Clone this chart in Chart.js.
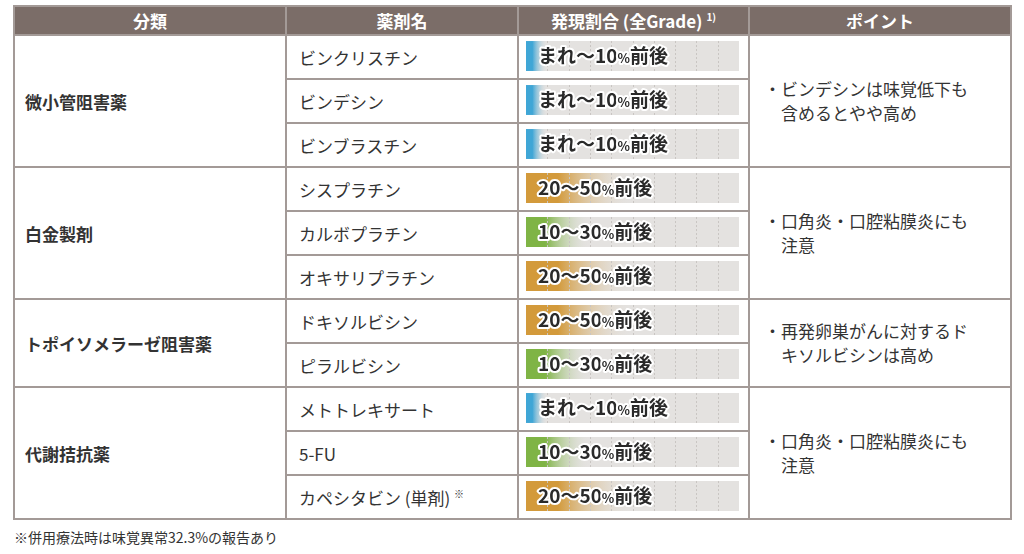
<!DOCTYPE html>
<html>
<head>
<meta charset="utf-8">
<script src="https://cdn.jsdelivr.net/npm/chart.js@4"></script>
<style>
body { margin:0; background:#fff; font-family:"Noto Sans CJK JP", sans-serif; color:#333; }
table { position:absolute; left:13px; top:5px; border-collapse:collapse; table-layout:fixed; }
td, th { border:2px solid #a39a97; padding:0; font-size:17px; }
th { background:#7b6d68; color:#fff; height:27px; font-size:17px; font-weight:bold; }
td { height:42px; }
td.cat { font-weight:bold; padding-left:10px; }
td.drug { padding-left:12px; }
td.pt { padding-left:14px; line-height:24px; }
#wrap { position:absolute; left:526px; top:34px; width:213px; height:484px; }
#note { position:absolute; left:14px; top:527px; font-size:14px; color:#333; }
</style>
</head>
<body>
<table id="tbl">
  <colgroup><col style="width:272px"><col style="width:232px"><col style="width:231px"><col style="width:262px"></colgroup>
</table>
<div id="wrap"><canvas id="grafico"></canvas></div>
<div id="note">※併用療法時は味覚異常32.3%の報告あり</div>
<script>
var cabecalho = ["分類", "薬剤名", "発現割合 (全Grade) <sup style='font-size:10px'>1)</sup>", "ポイント"];
var categorias = ["微小管阻害薬", "白金製剤", "トポイソメラーゼ阻害薬", "代謝拮抗薬"];
var qtdPorCategoria = [3, 3, 2, 3];
var pontos = ["・ビンデシンは味覚低下も<br>　含めるとやや高め", "・口角炎・口腔粘膜炎にも<br>　注意", "・再発卵巣がんに対するド<br>　キソルビシンは高め", "・口角炎・口腔粘膜炎にも<br>　注意"];
var farmacos = ["ビンクリスチン", "ビンデシン", "ビンブラスチン", "シスプラチン", "カルボプラチン", "オキサリプラチン", "ドキソルビシン", "ピラルビシン", "メトトレキサート", "5-FU", "カペシタビン (単剤) <sup style='font-size:10px'>※</sup>"];
var faixas = ["まれ〜10%前後", "まれ〜10%前後", "まれ〜10%前後", "20〜50%前後", "10〜30%前後", "20〜50%前後", "20〜50%前後", "10〜30%前後", "まれ〜10%前後", "10〜30%前後", "20〜50%前後"];
var valores = [10, 10, 10, 50, 30, 50, 50, 30, 10, 30, 50];
var trilho = [100, 100, 100, 100, 100, 100, 100, 100, 100, 100, 100];

var cores = { "まれ〜10%前後": "#3fa6d6", "10〜30%前後": "#7fb445", "20〜50%前後": "#d39a3b" };

// monta a tabela
var tbl = document.getElementById("tbl");
var html = "<tr>" + cabecalho.map(function (c) { return "<th>" + c + "</th>"; }).join("") + "</tr>";
var k = 0;
for (let i = 0; i < categorias.length; i++) {
    for (let j = 0; j < qtdPorCategoria[i]; j++) {
        html += "<tr>";
        if (j == 0) html += `<td class="cat" rowspan="${qtdPorCategoria[i]}">${categorias[i]}</td>`;
        html += `<td class="drug">${farmacos[k]}</td><td></td>`;
        if (j == 0) html += `<td class="pt" rowspan="${qtdPorCategoria[i]}">${pontos[i]}</td>`;
        html += "</tr>";
        k++;
    }
}
tbl.innerHTML += html;

var pluginTrilho = {
    id: "trilho",
    afterDatasetsDraw(chart) {
        const ctx = chart.ctx;
        const xs = chart.scales.x;
        const meta = chart.getDatasetMeta(1);
        meta.data.forEach(function (bar, i) {
            const top = bar.y - bar.height / 2, bot = bar.y + bar.height / 2;
            ctx.save();
            ctx.strokeStyle = "#c9c5c2";
            ctx.setLineDash([2, 2]);
            ctx.lineWidth = 1;
            for (let v = 10; v < 100; v += 10) {
                const x = Math.round(xs.getPixelForValue(v)) + 0.5;
                ctx.beginPath(); ctx.moveTo(x, top); ctx.lineTo(x, bot); ctx.stroke();
            }
            ctx.restore();
            // texto
            const partes = faixas[i].split("%");
            ctx.save();
            ctx.textBaseline = "middle";
            ctx.lineJoin = "round";
            ctx.lineWidth = 4;
            ctx.strokeStyle = "#fff";
            ctx.fillStyle = "#2a2a2a";
            let x = 12;
            ctx.font = "bold 19px 'Noto Sans CJK JP'";
            ctx.strokeText(partes[0], x, bar.y); ctx.fillText(partes[0], x, bar.y);
            x += ctx.measureText(partes[0]).width;
            ctx.font = "bold 13px 'Noto Sans CJK JP'";
            ctx.strokeText("%", x, bar.y + 2); ctx.fillText("%", x, bar.y + 2);
            x += ctx.measureText("%").width;
            ctx.font = "bold 19px 'Noto Sans CJK JP'";
            ctx.strokeText(partes[1], x, bar.y); ctx.fillText(partes[1], x, bar.y);
            ctx.restore();
        });
    }
};

function gradiente(context) {
    const chart = context.chart;
    const area = chart.chartArea;
    if (!area) return "#ccc";
    const cor = cores[faixas[context.dataIndex]];
    const xs = chart.scales.x;
    const fim = xs.getPixelForValue(valores[context.dataIndex]);
    const g = chart.ctx.createLinearGradient(area.left, 0, fim, 0);
    g.addColorStop(0, cor);
    g.addColorStop(0.3, cor);
    g.addColorStop(1, "rgba(228,226,224,0)");
    return g;
}

new Chart(document.getElementById("grafico"), {
    type: "bar",
    data: {
        labels: farmacos,
        datasets: [{
            data: valores,
            backgroundColor: gradiente,
            order: 0
        }, {
            data: trilho,
            backgroundColor: "#e4e2e0",
            order: 1
        }]
    },
    options: {
        indexAxis: "y",
        responsive: true,
        maintainAspectRatio: false,
        animation: false,
        grouped: false,
        categoryPercentage: 1,
        barPercentage: 0.68,
        layout: { padding: 0 },
        plugins: { legend: { display: false }, tooltip: { enabled: false } },
        scales: {
            x: { display: false, min: 0, max: 100 },
            y: { display: false }
        }
    },
    plugins: [pluginTrilho]
});
</script>
</body>
</html>
